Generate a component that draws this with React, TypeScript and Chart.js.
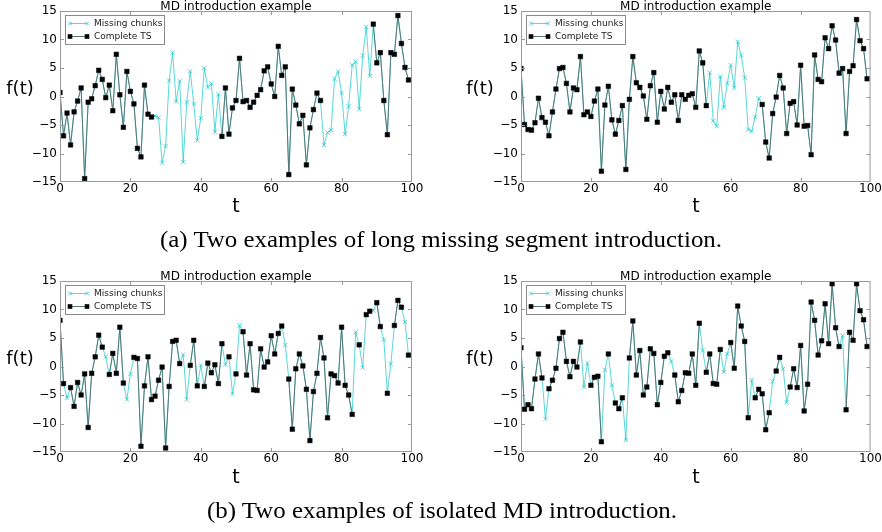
import React, { useEffect, useLayoutEffect, useRef, useState } from 'react';
import { Chart, registerables } from 'chart.js';
Chart.register(...registerables);

// time index t = 0..99
const T: number[] = Array.from({ length: 100 }, (_, i) => i);

const X_TICKS = [0, 20, 40, 60, 80, 100];
const Y_TICKS = [-15, -10, -5, 0, 5, 10, 15];
const TITLE = 'MD introduction example';
const LEGEND_MISSING = 'Missing chunks';
const LEGEND_COMPLETE = 'Complete TS';

// (a) long missing segments — left
const tlValues = [
  0.7, -6.9, -2.9, -8.5, -2.7, -0.8, 1.5, -14.4, -1.0, -0.4,
  1.9, 4.6, 3.0, -0.2, 2.0, -2.5, 7.4, 0.3, -5.4, 4.4,
  0.9, -1.3, -9.1, -10.6, 2.0, -3.1, -3.6, -3.4, -3.7, -11.6,
  -8.7, 2.8, 7.7, -0.9, 2.7, -11.5, -1.0, 4.4, -1.3, -7.7,
  -3.8, 5.0, 1.6, 2.3, -6.2, 0.4, -7.0, 1.5, -6.6, -2.0,
  -0.7, 6.7, -0.9, -0.7, -1.9, -1.0, 0.2, 1.2, 4.5, 5.2,
  2.2, 0.0, 8.8, 3.7, 5.2, -13.7, 1.3, -1.5, -4.8, -3.3,
  -12.0, -5.5, -2.3, 0.6, -0.7, -8.5, -6.3, -5.9, 3.1, 4.4,
  0.6, -6.6, -1.7, 5.5, 6.1, -2.2, 7.2, 12.2, 3.6, 12.7,
  5.9, 7.7, -0.7, -6.7, 7.7, 7.4, 14.2, 9.3, 5.1, 2.9,
];
const tlMissing = [
  27, 28, 29, 30, 31, 32, 33, 34, 35, 36, 37, 38, 39, 40, 41, 42, 43, 44, 45,
  75, 76, 77, 78, 79, 80, 81, 82, 83, 84, 85, 86, 87, 88,
];

// (a) long missing segments — right
const trValues = [
  4.9, -4.9, -5.8, -5.9, -4.6, -0.3, -3.7, -4.5, -6.9, -2.7,
  1.3, 4.9, 5.1, 2.3, -2.7, 1.5, 1.2, 7.0, -3.2, -2.7,
  -3.5, -0.8, 1.3, -13.1, -1.5, 1.8, -4.1, -6.6, -4.2, -1.6,
  -12.8, -0.5, 7.0, 2.4, 1.6, 0.1, -4.0, 1.9, 4.2, -4.5,
  0.9, -2.2, 1.6, -1.0, 0.3, -4.2, 0.3, -0.5, 0.2, 0.5,
  -1.9, 8.0, 5.9, -1.6, 4.2, -4.3, -5.2, 3.5, -1.9, 2.3,
  5.5, 1.5, 9.6, 7.2, 3.3, -5.8, -6.1, -3.6, -0.3, -1.4,
  -8.0, -10.8, -3.0, -0.1, 3.7, 1.5, -6.5, -1.2, -0.9, -5.0,
  5.5, -5.2, -5.1, -10.2, 7.3, 3.0, 2.6, 10.3, 8.4, 12.4,
  9.9, 4.1, 4.9, -6.5, 4.4, 5.4, 13.5, 9.8, 8.4, 3.1,
];
const trMissing = [54, 55, 56, 57, 58, 59, 60, 61, 62, 63, 64, 65, 66, 67, 68];

// (b) isolated MD — left
const blValues = [
  8.1, -3.0, -5.5, -3.7, -7.0, -2.8, -5.0, -1.3, -10.7, -1.2,
  1.7, 5.5, 3.4, 1.7, -1.4, 2.3, -1.2, 6.9, -2.9, -5.8,
  -1.3, 1.6, 1.4, -14.0, -3.4, 1.7, -5.8, -5.2, -2.4, -0.1,
  -14.3, -3.5, 4.4, 4.6, 0.5, 2.1, -5.8, 0.2, 4.6, -3.4,
  0.2, -3.5, 0.6, -1.1, 0.3, -3.0, 4.0, 0.3, 1.7, -4.8,
  -1.3, 7.2, 6.1, -1.5, 4.0, -4.1, -4.2, 3.1, -0.1, 0.8,
  5.4, 2.2, 5.8, 7.1, 3.8, -2.2, -11.0, -0.4, 2.2, 0.1,
  -4.0, -13.0, -4.4, -1.2, 5.1, 1.5, -9.0, -1.3, -1.6, -2.9,
  6.9, -3.3, -5.0, -8.4, 6.0, 3.8, -0.2, 9.1, 9.7, 9.8,
  11.2, 7.0, 4.7, -4.7, 0.5, 7.2, 11.6, 10.4, 7.8, 2.0,
];
const blMissing = [2, 13, 19, 20, 35, 36, 40, 47, 49, 51, 64, 84, 86, 89, 92, 94, 98];

// (b) isolated MD — right
const brValues = [
  3.3, -7.5, -6.7, -7.4, -2.2, 2.2, -2.0, -9.2, -3.9, -2.4,
  -0.3, 4.9, 6.0, 0.9, -1.8, 0.9, -0.1, 4.3, -3.6, 0.6,
  -3.3, -1.9, -1.7, -13.2, -0.6, 2.2, -3.3, -6.4, -7.4, -5.5,
  -12.9, 1.5, 8.0, -1.5, 2.8, -5.0, -3.6, 3.1, 2.3, -6.7,
  -2.8, 1.8, 2.4, 0.9, -1.5, -6.2, -4.2, -1.1, -1.2, 2.2,
  -3.3, 7.6, 2.8, -1.0, 2.2, -3.0, -3.1, 3.0, -1.0, 2.2,
  4.2, -0.3, 10.6, 7.1, 4.4, -9.0, -2.4, -5.5, -4.0, -4.8,
  -11.1, -8.1, -2.6, -0.8, 1.6, -0.4, -6.3, -3.6, -0.4, -3.7,
  3.7, -7.8, -3.1, 11.3, 8.1, 2.0, 4.5, 11.0, 4.0, 14.5,
  6.8, 3.5, 5.4, -7.6, 6.0, 4.6, 14.5, 9.8, 8.2, 3.5,
];
const brMissing = [7, 18, 19, 24, 26, 30, 43, 52, 58, 59, 66, 72, 75, 76, 92];

const CAPTION_A = '(a) Two examples of long missing segment introduction.';
const CAPTION_B = '(b) Two examples of isolated MD introduction.';

const CYAN = 'rgba(20, 200, 200, 0.7)';
const DARK = '#577575';
const SPINE = '#9a9a9a';
const SANS = '"DejaVu Sans", sans-serif';

const framePlugin = {
  id: 'mplFrame',
  afterDatasetsDraw(chart: any) {
    const { ctx, chartArea: ca, scales } = chart;
    ctx.save();
    ctx.strokeStyle = SPINE;
    ctx.lineWidth = 1;
    ctx.strokeRect(ca.left + 0.5, ca.top + 0.5, ca.right - ca.left - 1, ca.bottom - ca.top - 1);
    ctx.beginPath();
    for (const v of X_TICKS) {
      if (v === 0 || v === 100) continue;
      const px = Math.round(scales.x.getPixelForValue(v)) + 0.5;
      ctx.moveTo(px, ca.bottom);
      ctx.lineTo(px, ca.bottom - 4);
      ctx.moveTo(px, ca.top);
      ctx.lineTo(px, ca.top + 4);
    }
    for (const v of Y_TICKS) {
      if (v === -15 || v === 15) continue;
      const py = Math.round(scales.y.getPixelForValue(v)) + 0.5;
      ctx.moveTo(ca.left, py);
      ctx.lineTo(ca.left + 4, py);
      ctx.moveTo(ca.right, py);
      ctx.lineTo(ca.right - 4, py);
    }
    ctx.stroke();
    ctx.restore();
  },
  afterDraw(chart: any) {
    const { ctx, chartArea: ca } = chart;
    ctx.save();
    // title
    ctx.fillStyle = '#000';
    ctx.font = '12px ' + SANS;
    ctx.textAlign = 'center';
    ctx.textBaseline = 'alphabetic';
    ctx.fillText(TITLE, (ca.left + ca.right) / 2, ca.top - 1.5);
    // legend
    const bx = ca.left + 5;
    const by = ca.top + 4;
    const bw = 99;
    const bh = 29;
    ctx.fillStyle = '#fff';
    ctx.fillRect(bx, by, bw, bh);
    ctx.strokeStyle = '#8a8a8a';
    ctx.lineWidth = 1;
    ctx.strokeRect(bx + 0.5, by + 0.5, bw, bh);
    const x1 = bx + 5;
    const x2 = bx + 22;
    const r1 = by + 8.5;
    const r2 = by + 21.5;
    // row 1: missing chunks
    ctx.strokeStyle = CYAN;
    ctx.beginPath();
    ctx.moveTo(x1, r1);
    ctx.lineTo(x2, r1);
    ctx.stroke();
    for (const xx of [x1, x2]) {
      ctx.beginPath();
      ctx.moveTo(xx - 2, r1 - 2);
      ctx.lineTo(xx + 2, r1 + 2);
      ctx.moveTo(xx - 2, r1 + 2);
      ctx.lineTo(xx + 2, r1 - 2);
      ctx.stroke();
    }
    // row 2: complete TS
    ctx.strokeStyle = DARK;
    ctx.beginPath();
    ctx.moveTo(x1, r2);
    ctx.lineTo(x2, r2);
    ctx.stroke();
    ctx.fillStyle = '#000';
    for (const xx of [x1, x2]) ctx.fillRect(xx - 2.3, r2 - 2.3, 4.6, 4.6);
    ctx.fillStyle = '#222';
    ctx.font = '9px ' + SANS;
    ctx.textAlign = 'left';
    ctx.textBaseline = 'middle';
    ctx.fillText(LEGEND_MISSING, bx + 29, r1);
    ctx.fillText(LEGEND_COMPLETE, bx + 29, r2);
    ctx.restore();
  },
};

type Box = { left: number; top: number; w: number; h: number; yw: number; padTop: number; padRight: number; xh: number };

function Panel({ values, missing, box }: { values: number[]; missing: number[]; box: Box }) {
  const ref = useRef<HTMLCanvasElement>(null);
  useEffect(() => {
    const miss = new Set(missing);
    const full = values.map((v, i) => ({ x: T[i], y: v }));
    const complete = values.map((v, i) => ({ x: T[i], y: miss.has(i) ? null : v }));
    const tickFont = { family: SANS, size: 12 };
    const chart = new Chart(ref.current as HTMLCanvasElement, {
      type: 'line',
      data: {
        datasets: [
          {
            label: LEGEND_MISSING,
            data: full as any,
            borderColor: CYAN,
            backgroundColor: CYAN,
            borderWidth: 1,
            pointStyle: 'crossRot',
            pointRadius: 3,
            pointBorderColor: CYAN,
            pointBorderWidth: 1,
            tension: 0,
            order: 2,
          },
          {
            label: LEGEND_COMPLETE,
            data: complete as any,
            borderColor: DARK,
            backgroundColor: '#000',
            borderWidth: 1,
            pointStyle: 'rect',
            pointRadius: 3.2,
            pointBackgroundColor: '#000',
            pointBorderColor: '#000',
            pointBorderWidth: 0.5,
            spanGaps: false,
            tension: 0,
            order: 1,
          },
        ],
      },
      options: {
        responsive: false,
        animation: false,
        devicePixelRatio: 1,
        layout: { padding: { top: box.padTop, right: box.padRight, left: 0, bottom: 0 } },
        plugins: { legend: { display: false }, tooltip: { enabled: false }, title: { display: false } },
        scales: {
          x: {
            type: 'linear',
            min: 0,
            max: 100,
            afterFit: (s: any) => { s.height = box.xh; },
            afterBuildTicks: (s: any) => { s.ticks = X_TICKS.map((v) => ({ value: v })); },
            ticks: { font: tickFont, color: '#000', padding: 0, maxRotation: 0, autoSkip: false },
            grid: { display: false, drawTicks: false },
            border: { display: false },
          },
          y: {
            type: 'linear',
            min: -15,
            max: 15,
            afterFit: (s: any) => { s.width = box.yw; },
            afterBuildTicks: (s: any) => { s.ticks = Y_TICKS.map((v) => ({ value: v })); },
            ticks: {
              font: tickFont,
              color: '#000',
              padding: 3,
              callback: (v: any) => String(v).replace('-', '\u2212'),
            },
            grid: { display: false, drawTicks: false },
            border: { display: false },
          },
        },
      },
      plugins: [framePlugin],
    });
    return () => chart.destroy();
  }, []);
  return (
    <canvas
      ref={ref}
      width={box.w}
      height={box.h}
      style={{ position: 'absolute', left: box.left, top: box.top, width: box.w, height: box.h }}
    />
  );
}

function Label({ text, cx, cy, size }: { text: string; cx: number; cy: number; size: number }) {
  return (
    <div
      style={{
        position: 'absolute',
        left: cx,
        top: cy,
        transform: 'translate(-50%, -50%)',
        fontFamily: SANS,
        fontSize: size,
        lineHeight: 1,
        whiteSpace: 'nowrap',
        color: '#000',
      }}
    >
      {text}
    </div>
  );
}

function Captions() {
  const aRef = useRef<HTMLSpanElement>(null);
  const [scale, setScale] = useState(1);
  useLayoutEffect(() => {
    if (aRef.current) {
      const w = aRef.current.getBoundingClientRect().width;
      if (w > 0) setScale(562 / w);
    }
  }, []);
  const style = (left: number, cy: number): React.CSSProperties => ({
    position: 'absolute',
    left,
    top: cy - 12,
    fontFamily: '"Liberation Serif", "DejaVu Serif", serif',
    fontSize: 23,
    lineHeight: '24px',
    whiteSpace: 'nowrap',
    color: '#000',
    transform: `scaleX(${scale})`,
    transformOrigin: 'left center',
  });
  return (
    <>
      <span ref={aRef} style={style(160, 240)}>{CAPTION_A}</span>
      <span style={style(207, 511)}>{CAPTION_B}</span>
    </>
  );
}

const BOX_TL: Box = { left: 0, top: 0, w: 440, h: 200, yw: 60, padTop: 11, padRight: 28, xh: 18 };
const BOX_TR: Box = { left: 460, top: 0, w: 422, h: 200, yw: 61, padTop: 11, padRight: 10, xh: 18 };
const BOX_BL: Box = { left: 0, top: 270, w: 440, h: 200, yw: 60, padTop: 11, padRight: 28, xh: 18 };
const BOX_BR: Box = { left: 460, top: 270, w: 422, h: 200, yw: 61, padTop: 11, padRight: 10, xh: 18 };

export default function App() {
  return (
    <div style={{ position: 'absolute', left: 0, top: 0, width: 882, height: 532, background: '#fff', overflow: 'hidden' }}>
      <Panel values={tlValues} missing={tlMissing} box={BOX_TL} />
      <Panel values={trValues} missing={trMissing} box={BOX_TR} />
      <Panel values={blValues} missing={blMissing} box={BOX_BL} />
      <Panel values={brValues} missing={brMissing} box={BOX_BR} />
      <Label text="f(t)" cx={20} cy={88} size={18} />
      <Label text="f(t)" cx={480} cy={88} size={18} />
      <Label text="f(t)" cx={20} cy={358} size={18} />
      <Label text="f(t)" cx={480} cy={358} size={18} />
      <Label text="t" cx={236} cy={205} size={19} />
      <Label text="t" cx={696} cy={205} size={19} />
      <Label text="t" cx={236} cy={476} size={19} />
      <Label text="t" cx={696} cy={476} size={19} />
      <Captions />
    </div>
  );
}
